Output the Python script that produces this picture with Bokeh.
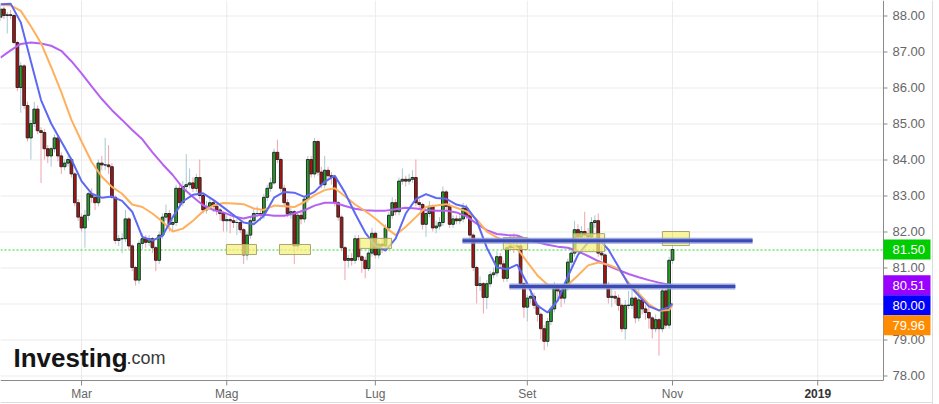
import pandas as pd
from bokeh.plotting import figure
from bokeh.models import ColumnDataSource, Label, Range1d
from bokeh.core.properties import value
from bokeh.embed import file_html
from bokeh.resources import INLINE

# ---------------- data (daily candles, 26 Jan 2018 -> 1 Nov 2018) ----------------
first_open = 87.95
close = [
    88.18, 88.0, 88.02, 88.0, 87.25, 86.0, 86.6, 85.5, 84.6, 85.0,
    85.4, 84.8, 84.75, 84.3, 84.1, 84.3, 84.6, 84.1, 83.8, 83.9,
    84.0, 83.6, 82.8, 82.4, 82.1, 82.45, 83.05, 82.95, 82.8, 83.9,
    83.85, 83.85, 83.8, 82.95, 81.75, 81.8, 81.8, 82.35, 81.6, 81.0,
    80.65, 81.67, 81.8, 81.7, 81.8, 81.55, 81.2, 81.9, 82.4, 82.5,
    82.2, 82.25, 83.2, 82.8, 83.25, 83.3, 83.35, 83.2, 83.5, 83.0,
    82.6, 82.7, 82.8, 82.7, 82.6, 82.5, 82.3, 82.33, 82.3, 82.25,
    82.25, 82.05, 81.35, 81.9, 82.3, 82.5, 82.5, 82.45, 82.95, 83.2,
    83.35, 84.2, 84.0, 83.2, 82.8, 82.5, 82.55, 81.6, 82.45, 82.35,
    82.9, 84.0, 83.6, 84.5, 83.65, 83.3, 83.7, 83.55, 83.5, 82.8,
    82.4, 81.55, 81.2, 81.25, 81.2, 81.8, 81.3, 81.2, 80.97, 81.4,
    81.95, 81.35, 81.65, 81.6, 82.1, 82.45, 82.8, 82.55, 83.4, 83.45,
    83.4, 83.45, 83.5, 82.8, 82.75, 82.2, 82.5, 82.7, 82.1, 82.15,
    82.25, 83.1, 82.7, 82.2, 82.35, 82.3, 82.35, 82.65, 82.45, 81.9,
    81.0, 80.5, 80.55, 80.17, 80.55, 80.8, 80.85, 81.3, 81.1, 80.7,
    81.55, 81.6, 81.55, 81.6, 80.55, 79.9, 80.15, 80.2, 79.95, 79.7,
    79.3, 78.95, 79.5, 79.85, 80.45, 80.35, 80.15, 80.45, 81.15, 81.4,
    82.05, 81.85, 82.0, 81.9, 81.85, 82.25, 82.3, 81.4, 81.35, 80.5,
    80.17, 80.2, 80.15, 79.95, 79.3, 79.95, 79.95, 80.15, 79.6, 80.1,
    79.85, 79.75, 79.6, 79.3, 79.55, 79.3, 80.35, 79.4, 81.2, 81.5,
]
high = [
    88.3, 88.25, 88.1, 88.15, 88.05, 87.3, 86.7, 86.65, 85.6, 85.1,
    85.6, 85.5, 84.9, 84.85, 84.4, 84.35, 84.7, 84.65, 84.2, 84.0,
    84.1, 84.05, 83.65, 82.9, 82.5, 82.6, 83.1, 83.2, 83.0, 84.0,
    84.1, 84.6, 84.4, 83.9, 83.0, 81.9, 81.95, 82.6, 82.4, 81.65,
    81.05, 81.75, 81.95, 81.9, 81.9, 81.85, 81.6, 82.0, 82.5, 82.75,
    82.6, 82.4, 83.3, 83.3, 83.4, 84.15, 83.75, 83.5, 83.6, 84.0,
    83.05, 82.85, 82.95, 82.9, 82.75, 82.65, 82.55, 82.45, 82.4, 82.4,
    82.35, 82.3, 82.1, 82.0, 82.4, 82.65, 82.7, 82.6, 83.05, 83.3,
    83.5, 84.3, 84.55, 84.05, 83.3, 82.9, 82.7, 82.6, 82.55, 82.6,
    83.0, 84.1, 84.1, 84.6, 84.55, 83.8, 84.1, 83.8, 83.65, 83.55,
    82.85, 82.45, 81.6, 81.35, 81.4, 81.9, 81.9, 81.35, 81.3, 81.5,
    82.1, 82.0, 81.75, 81.8, 82.2, 82.55, 82.95, 82.9, 83.5, 83.75,
    83.55, 83.6, 83.7, 84.0, 82.9, 82.8, 82.6, 82.85, 82.75, 82.3,
    82.4, 83.25, 83.15, 82.8, 82.45, 82.45, 82.5, 82.8, 82.75, 82.5,
    81.95, 81.05, 80.75, 80.6, 80.65, 80.9, 81.0, 81.45, 81.4, 81.2,
    81.65, 81.9, 81.95, 81.85, 81.7, 80.6, 80.25, 80.5, 80.3, 80.0,
    79.75, 79.4, 79.6, 79.95, 80.6, 80.55, 80.45, 80.6, 81.25, 81.55,
    82.3, 82.2, 82.15, 82.55, 82.1, 82.4, 82.45, 82.5, 81.6, 81.4,
    80.6, 80.4, 80.35, 80.25, 80.0, 80.1, 80.35, 80.5, 80.2, 80.5,
    80.2, 79.95, 79.9, 79.65, 79.7, 79.6, 80.45, 80.4, 81.3, 82.0,
]
low = [
    87.85, 87.9, 87.5, 87.9, 87.2, 85.9, 85.3, 85.4, 84.5, 84.0,
    84.9, 84.7, 83.35, 84.0, 83.9, 83.8, 84.2, 83.95, 83.6, 83.7,
    83.8, 83.5, 82.7, 82.3, 82.0, 81.55, 82.3, 82.8, 82.6, 82.7,
    83.7, 83.7, 83.6, 82.9, 81.65, 81.6, 81.4, 81.7, 81.5, 80.9,
    80.5, 80.55, 81.5, 81.55, 81.6, 81.4, 80.9, 81.1, 81.8, 82.3,
    82.0, 82.0, 82.15, 82.7, 82.7, 83.1, 83.2, 83.1, 83.1, 82.9,
    82.5, 82.5, 82.6, 82.55, 82.45, 82.3, 82.0, 82.0, 81.95, 82.1,
    81.9, 81.95, 81.1, 81.2, 81.8, 82.2, 82.4, 82.3, 82.35, 82.85,
    83.1, 83.3, 83.9, 83.1, 82.7, 82.4, 82.35, 81.1, 81.5, 82.2,
    82.25, 82.8, 83.5, 83.5, 83.55, 83.2, 83.2, 83.45, 83.3, 82.7,
    82.3, 81.45, 80.65, 81.0, 81.05, 81.1, 81.2, 80.85, 80.7, 80.9,
    81.3, 81.25, 81.25, 81.4, 81.5, 82.0, 82.35, 82.45, 82.45, 83.3,
    83.25, 83.3, 83.35, 82.7, 82.6, 82.05, 81.85, 82.4, 82.0, 81.95,
    82.05, 82.15, 82.6, 82.1, 82.1, 82.2, 82.2, 82.25, 82.35, 81.8,
    80.9, 80.0, 80.35, 79.72, 79.85, 80.45, 80.7, 80.75, 81.0, 80.6,
    80.6, 81.45, 81.4, 81.45, 80.45, 79.6, 79.5, 80.0, 79.85, 79.5,
    79.0, 78.7, 78.8, 79.4, 79.75, 80.1, 79.9, 80.0, 80.35, 81.0,
    81.3, 81.75, 81.7, 81.8, 81.7, 81.75, 82.1, 81.3, 81.2, 80.4,
    80.0, 79.9, 80.0, 79.8, 79.2, 79.0, 79.85, 79.85, 79.45, 79.5,
    79.7, 79.55, 79.3, 79.03, 79.2, 78.55, 79.2, 79.3, 79.3, 81.1,
]

# moving averages, sampled every third session (last point = last session)
ma_idx = list(range(0, 199, 3)) + [199]
ma_fast = [
    88.31, 88.33, 87.81, 86.72, 85.65, 85.0, 84.5, 84.0, 83.4, 83.05,
    82.94, 82.97, 82.85, 82.55, 81.85, 81.75, 81.88, 82.4, 82.84, 83.02,
    83.06, 82.88, 82.67, 82.46, 82.25, 82.2, 82.44, 82.94, 83.1, 83.08,
    82.96, 83.1, 83.38, 83.55, 83.08, 82.5, 81.97, 81.6, 81.47, 81.8,
    82.5, 82.9, 83.04, 82.93, 82.91, 82.75, 82.68, 82.3, 81.55, 81.0,
    80.95, 81.08, 80.55, 79.94, 79.75, 80.08, 80.75, 81.35, 81.7, 81.8,
    81.5, 81.02, 80.52, 80.22, 79.92, 79.81, 79.9, 80.0,
]
ma_mid = [
    88.3, 88.28, 88.13, 87.7, 87.23, 86.57, 85.87, 85.1, 84.5, 83.93,
    83.52, 83.24, 83.05, 82.75, 82.68, 82.5, 82.27, 82.0, 82.08, 82.3,
    82.56, 82.72, 82.79, 82.78, 82.76, 82.64, 82.6, 82.72, 82.7, 82.68,
    82.82, 83.01, 83.15, 83.2, 82.98, 82.75, 82.57, 82.36, 82.12, 81.9,
    82.13, 82.4, 82.68, 82.72, 82.76, 82.66, 82.56, 82.34, 82.0, 81.84,
    81.7, 81.53, 81.15, 80.78, 80.52, 80.5, 80.52, 80.78, 81.06, 81.14,
    81.08, 80.96, 80.58, 80.28, 79.98, 79.8, 79.82, 79.96,
]
ma_slow = [
    86.83, 87.03, 87.21, 87.25, 87.22, 87.16, 87.02, 86.73, 86.39, 86.03,
    85.68, 85.37, 85.1, 84.82, 84.56, 84.2, 83.87, 83.57, 83.21, 82.96,
    82.73, 82.6, 82.53, 82.42, 82.36, 82.43, 82.47, 82.44, 82.44, 82.5,
    82.59, 82.72, 82.8, 82.8, 82.71, 82.63, 82.59, 82.58, 82.58, 82.62,
    82.66, 82.64, 82.6, 82.58, 82.58, 82.53, 82.42, 82.22, 82.04, 81.93,
    81.9, 81.89, 81.78, 81.7, 81.63, 81.58, 81.55, 81.45, 81.32, 81.18,
    81.05, 80.93, 80.82, 80.73, 80.65, 80.58, 80.52, 80.51,
]

month_labels = ["Mar", "Mag", "Lug", "Set", "Nov", "2019"]
month_starts = ["2018-03-01", "2018-05-01", "2018-07-01", "2018-09-01", "2018-11-01", "2019-01-01"]
price_ticks = [78, 79, 80, 81, 82, 83, 84, 85, 86, 87, 88]

# drawn zones (session index span, price span) and horizontal levels
zone_left = [66.9, 82.6, 106.3, 148.9, 169.7, 196.0]
zone_right = [75.8, 91.8, 115.8, 156.1, 178.9, 204.0]
zone_bottom = [81.36, 81.36, 81.53, 81.50, 81.44, 81.61]
zone_top = [81.64, 81.64, 81.81, 81.83, 81.94, 82.00]
level_x0 = [136.8, 150.7]
level_x1 = [222.7, 217.6]
level_y = [81.74, 80.47]

# ---------------- layout helpers (pixel geometry of the reference) ----------------
PX = 3.377          # px per session
PY = 36.0           # px per price unit
Y_TOP = 88.417      # price at the top edge
W, H = 939, 404


def xd(px):
    return px / PX


def yd(py):
    return Y_TOP - py / PY


AX_X = xd(883)      # right price axis
AX_Y = yd(380)      # bottom time axis
FONT = value("Liberation Sans")
HALF_PX = 0.5 / PY  # nudge to land 1px lines on a pixel row

# ---------------- derived ----------------
calendar = pd.bdate_range("2018-01-26", "2019-03-29")
tick_pos = [int(calendar.searchsorted(pd.Timestamp(d))) for d in month_starts]

n = len(close)
opens = [first_open] + close[:-1]
xs = list(range(n))
up = [c >= o for o, c in zip(opens, close)]
src = ColumnDataSource(dict(
    x=xs, h=high, l=low,
    top=[max(o, c) for o, c in zip(opens, close)],
    bottom=[min(o, c) for o, c in zip(opens, close)],
    fill=["#22a524" if u else "#b40f0f" for u in up],
    wick=["#a8c8d5" if u else "#f2a3ab" for u in up],
))

p = figure(width=W, height=H, x_range=Range1d(0, xd(W)), y_range=Range1d(yd(H), Y_TOP),
           x_axis_location=None, y_axis_location=None,
           output_backend="svg", toolbar_location=None,
           min_border_left=0, min_border_top=0, min_border_right=0, min_border_bottom=0,
           background_fill_color="white", border_fill_color="white", outline_line_color=None)
p.xgrid.visible = False
p.ygrid.visible = False

# grid
grid_y = [v - HALF_PX for v in price_ticks]
p.segment(x0=[0] * len(price_ticks), y0=grid_y, x1=[AX_X] * len(price_ticks), y1=grid_y,
          line_color="#ebebeb", line_width=1)
p.segment(x0=tick_pos, y0=[AX_Y] * len(tick_pos), x1=tick_pos, y1=[Y_TOP] * len(tick_pos),
          line_color="#ebebeb", line_width=1)

# last-price dotted line
last_y = close[-1] - HALF_PX
p.segment(x0=[0], y0=[last_y], x1=[AX_X], y1=[last_y],
          line_color="#22dd22", line_dash="2 2", line_width=1)

# candles
p.segment(x0="x", y0="h", x1="x", y1="l", line_color="wick", line_width=1, source=src)
p.vbar(x="x", width=0.8, top="top", bottom="bottom", fill_color="fill",
       line_color="#2a2a2a", line_width=1, source=src)

# moving averages
p.line(ma_idx, ma_slow, line_color="#b561f2", line_width=2)
p.line(ma_idx, ma_mid, line_color="#ffb05e", line_width=2)
p.line(ma_idx, ma_fast, line_color="#5d69f3", line_width=2)

# drawn zones and levels
p.quad(left=zone_left, right=zone_right, bottom=zone_bottom, top=zone_top,
       fill_color="#f6f07a", fill_alpha=0.72, line_color="#aaa670", line_width=1)
p.segment(x0=level_x0, y0=level_y, x1=level_x1, y1=level_y,
          line_color="#8c98d8", line_width=6, line_alpha=0.85)
p.segment(x0=level_x0, y0=level_y, x1=level_x1, y1=level_y,
          line_color="#3a4bb3", line_width=3)

# axes: lines, ticks, labels
p.segment(x0=[AX_X, 0], y0=[AX_Y, AX_Y], x1=[AX_X, AX_X], y1=[Y_TOP, AX_Y],
          line_color="#8a8a8a", line_width=1)
p.segment(x0=[AX_X] * len(price_ticks), y0=grid_y, x1=[xd(887)] * len(price_ticks), y1=grid_y,
          line_color="#8a8a8a", line_width=1)
p.segment(x0=tick_pos, y0=[AX_Y] * len(tick_pos), x1=tick_pos, y1=[yd(385)] * len(tick_pos),
          line_color="#8a8a8a", line_width=1)
p.text(x=[xd(892)] * len(price_ticks), y=price_ticks, text=[f"{v:.2f}" for v in price_ticks],
       text_font=FONT, text_font_size="13px", text_color="#666666",
       text_align="left", text_baseline="middle")
p.text(x=tick_pos[:-1], y=[yd(393)] * (len(tick_pos) - 1), text=month_labels[:-1],
       text_font=FONT, text_font_size="12px", text_color="#666666",
       text_align="center", text_baseline="middle")
p.text(x=tick_pos[-1:], y=[yd(393)], text=month_labels[-1:],
       text_font=FONT, text_font_size="12px", text_font_style="bold", text_color="#333333",
       text_align="center", text_baseline="middle")

# outer panel border
p.segment(x0=[xd(932), 0], y0=[yd(0), yd(402)], x1=[xd(932), xd(932)], y1=[yd(404), yd(402)],
          line_color="#dddddd", line_width=1)

# price tags on the right axis (stacked so they do not overlap)
sep = 20 / PY
tags = sorted([(close[-1], "#00cc00"), (ma_slow[-1], "#9900ff"),
               (ma_fast[-1], "#0000ff"), (ma_mid[-1], "#ff8c00")],
              key=lambda t: -t[0])
tag_y, tag_col, tag_txt = [], [], []
prev = None
for val, col in tags:
    ypos = val if prev is None else min(val, prev - sep)
    prev = ypos
    tag_y.append(ypos)
    tag_col.append(col)
    tag_txt.append(f"{val:.2f}")
half = 10 / PY
p.quad(left=[AX_X] * 4, right=[xd(930)] * 4, top=[y + half for y in tag_y],
       bottom=[y - half for y in tag_y], fill_color=tag_col, line_color=None)
p.text(x=[xd(892)] * 4, y=tag_y, text=tag_txt, text_font=FONT, text_font_size="13px",
       text_color="white", text_align="left", text_baseline="middle")

# logo
p.add_layout(Label(x=xd(13), y=yd(357), text="Investing", text_font="Liberation Sans",
                   text_font_size="26px", text_font_style="bold", text_color="#151515",
                   text_baseline="alphabetic"))
p.add_layout(Label(x=xd(13), y=yd(357), x_offset=113, text=".com", text_font="Liberation Sans",
                   text_font_size="18px", text_color="#3a3a3a", text_baseline="alphabetic"))

open("out.html", "w").write(file_html(p, INLINE))
